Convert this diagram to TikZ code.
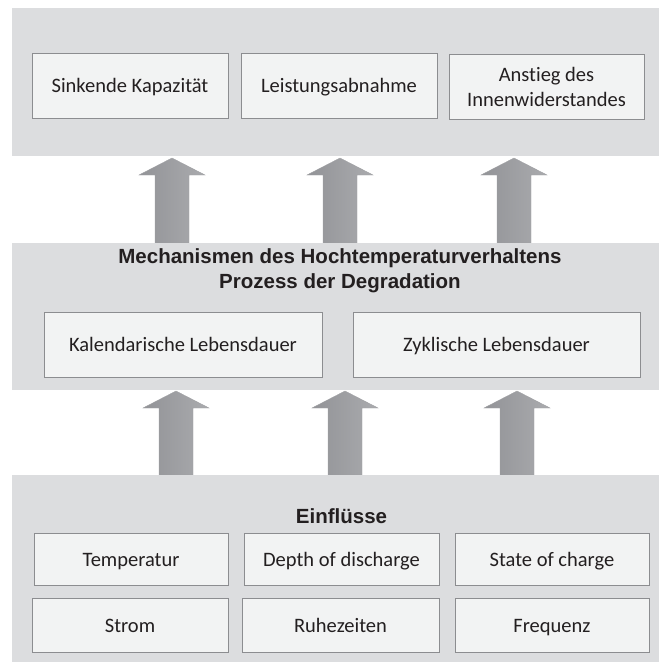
\documentclass[tikz,border=0pt]{standalone}
\usepackage{fontspec}
\setmainfont{Carlito}[Ligatures=NoCommon]
\newfontfamily\headfont{Liberation Sans}
\definecolor{panelgray}{RGB}{220,221,223}
\definecolor{cellfill}{RGB}{242,243,243}
\definecolor{cellline}{RGB}{140,141,144}
\definecolor{ink}{RGB}{35,31,32}
\definecolor{arrowdark}{RGB}{146,147,151}
\definecolor{arrowlight}{RGB}{170,171,174}
\definecolor{arrowedge}{RGB}{160,161,164}
\begin{document}
\begin{tikzpicture}[x=1pt,y=-1pt,
  panel/.style={fill=panelgray, draw=none, inner sep=0pt, anchor=north west},
  cell/.style={draw=cellline, fill=cellfill, line width=0.8pt, inner sep=0pt,
    text height=17pt, text depth=2.5pt,
    font=\fontsize{20.5}{25}\selectfont, text=ink, align=center},
  twoline/.style={text height=, text depth=},
  heading/.style={font=\headfont\bfseries\fontsize{20.5}{25}\selectfont, text=ink, align=center},
  blockarrow/.style={left color=arrowdark, right color=arrowlight, draw=arrowedge, line width=0.4pt}]
\useasboundingbox (0,0) rectangle (659,662);

% block arrows between the layers: centre x / tip y / base y
\foreach \cx/\tip/\base in {172/158/243, 340/158/243, 514/158/243,
                            176/391/475, 345/391/475, 517/391/475} {
  \path[blockarrow] (\cx-17,\base) -- (\cx-17,\tip+17) -- (\cx-33,\tip+17) -- (\cx,\tip)
    -- (\cx+33,\tip+17) -- (\cx+17,\tip+17) -- (\cx+17,\base) -- cycle;
}

% layers
\node[panel, minimum width=647, minimum height=148] (effects) at (12,8) {};
\node[panel, minimum width=647, minimum height=147] (mechanisms) at (12,243) {};
\node[panel, minimum width=647, minimum height=187] (influences) at (12,475) {};

% effects
\node[cell, minimum width=196, minimum height=65] (capacity) at (130,85.5) {Sinkende Kapazität};
\node[cell, minimum width=196, minimum height=65] (power) at (339,85.5) {Leistungsabnahme};
\node[cell, twoline, minimum width=195, minimum height=65] (resistance) at (546.5,86.5) {Anstieg des\\Innenwiderstandes};

% mechanisms
\node[heading] (mechtitle) at (340,270.5) {Mechanismen des Hochtemperaturverhaltens\\Prozess der Degradation};
\node[cell, minimum width=278, minimum height=65] (calendar) at (183,344.5) {Kalendarische Lebensdauer};
\node[cell, minimum width=287, minimum height=65] (cyclic) at (496.5,344.5) {Zyklische Lebensdauer};

% influences
\node[heading] (inftitle) at (341.5,516) {Einflüsse};
\node[cell, minimum width=194, minimum height=52] (temp) at (131,559) {Temperatur};
\node[cell, minimum width=195, minimum height=52] (dod) at (341.5,559) {Depth of discharge};
\node[cell, minimum width=194, minimum height=52] (soc) at (552,559) {State of charge};
\node[cell, minimum width=196, minimum height=54] (current) at (130,625) {Strom};
\node[cell, minimum width=197, minimum height=54] (rest) at (340.5,625) {Ruhezeiten};
\node[cell, minimum width=194, minimum height=54] (freq) at (552,625) {Frequenz};
\end{tikzpicture}
\end{document}
